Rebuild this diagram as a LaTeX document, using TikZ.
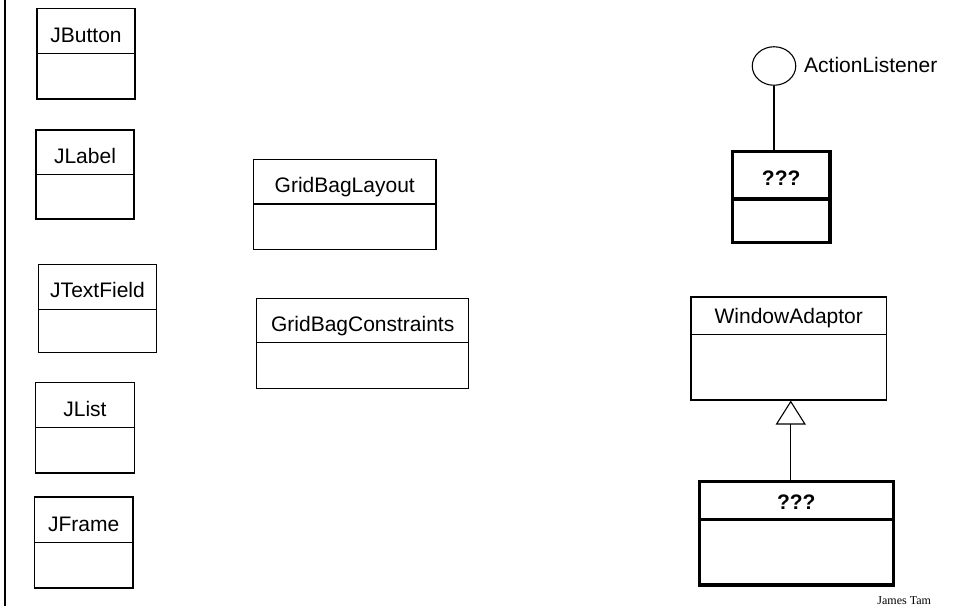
\documentclass[tikz,border=0pt]{standalone}
\usepackage{fontspec}
\setmainfont{Liberation Sans}
\newfontfamily\serifname{Liberation Serif}
\usetikzlibrary{arrows.meta,shapes.geometric}
\tikzset{
  thinbox/.style={draw=black, line width=1.1pt, fill=white},
  thickbox/.style={draw=black, line width=3.4pt, fill=white},
  thindiv/.style={draw=black, line width=1.1pt},
  thickdiv/.style={draw=black, line width=3.4pt},
  clsname/.style={inner sep=0pt, anchor=base, font=\fontsize{21}{24}\selectfont},
  boldname/.style={inner sep=0pt, anchor=base, font=\fontsize{21}{24}\selectfont\bfseries},
  conn/.style={draw=black, line width=1.1pt},
}
\newcommand\umlbox[9]{%
  \node[#8, inner sep=0pt, minimum width={#4-#2}, minimum height={#5-#3}] (#1) at ({(#2+#4)/2},{(#3+#5)/2}) {};
  \draw[#9] (#2,#6) -- (#4,#6);
  \node[clsname] (#1-name) at ({(#2+#4)/2},{#6-11.5}) {#7};
}
\begin{document}
\begin{tikzpicture}[x=1pt,y=-1pt]
\useasboundingbox (0,0) rectangle (957,606);
\draw[line width=2.2pt] (5,0) -- (5,606);
\umlbox{jbutton}{37}{8.5}{135}{99}{53.5}{JButton}{thinbox}{thindiv}
\umlbox{jlabel}{36}{130}{134}{219}{174.5}{JLabel}{thinbox}{thindiv}
\umlbox{jtext}{38.5}{264.5}{156.5}{352.5}{309.3}{JTextField}{thinbox}{thindiv}
\umlbox{jlist}{35.5}{382.5}{134.5}{473}{427.5}{JList}{thinbox}{thindiv}
\umlbox{jframe}{34.5}{497}{133}{588}{542.5}{JFrame}{thinbox}{thindiv}
\umlbox{gbl}{253.5}{159.5}{436}{249.5}{204}{GridBagLayout}{thinbox}{thindiv}
\umlbox{gbc}{256.7}{298.5}{468.7}{388.5}{342.7}{GridBagConstraints}{thinbox}{thindiv}
\umlbox{wa}{691}{297}{886.5}{400}{334.5}{WindowAdaptor}{thinbox}{thindiv}
% ActionListener implementer
\node[thickbox, inner sep=0pt, minimum width=97.5, minimum height=90.5] (q1) at (781.2,197) {};
\draw[thickdiv] (732.5,199) -- (830,199);
\node[boldname] (q1-name) at (781.2,185.7) {???};
% WindowAdaptor subclass
\node[thickbox, inner sep=0pt, minimum width=194, minimum height=103.5] (q2) at (796.3,533.4) {};
\draw[thickdiv] (699.3,519.5) -- (893.3,519.5);
\node[boldname] (q2-name) at (796.3,509.5) {???};
% interface lollipop
\node[draw=black, line width=1.1pt, ellipse, inner sep=0pt, minimum width=43.5, minimum height=38.5] (al) at (774,66) {};
\node[clsname, anchor=base west] (al-name) at (804,72.7) {ActionListener};
\draw[conn] (al.south) -- (al.south |- q1.north);
% generalization
\coordinate (gstart) at ([xshift=2pt]q2.north -| wa.south);
\draw[conn, -{Triangle[open, length=24pt, width=30pt, line width=1.1pt]}] (gstart) -- (gstart |- wa.south);
\node[inner sep=0pt, anchor=base, font=\fontsize{12}{14}\serifname] (author) at (904.2,604.5) {James Tam};
\end{tikzpicture}
\end{document}
